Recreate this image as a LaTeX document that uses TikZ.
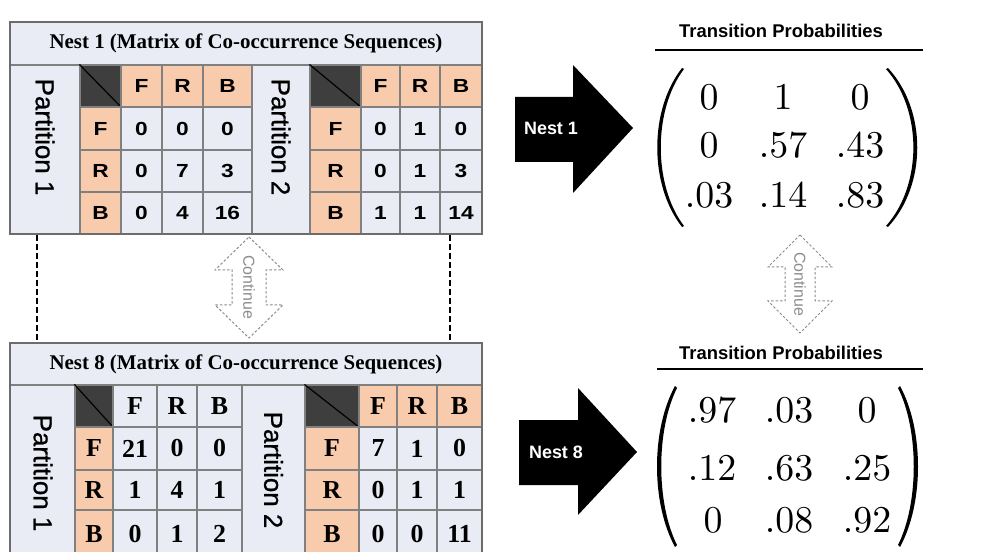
\documentclass[tikz,border=0pt]{standalone}
\usepackage[no-math]{fontspec}
\setmainfont{Liberation Serif}
\setsansfont{Liberation Sans}
\newfontfamily\cellsans[FakeStretch=1.2]{Liberation Sans}
\newfontfamily\labsans{Liberation Sans}
\newfontfamily\partsans[FakeBold=0.8]{Liberation Sans}
\definecolor{peach}{RGB}{247,203,172}
\definecolor{pale}{RGB}{233,236,244}
\definecolor{cornerc}{RGB}{62,62,62}
\definecolor{gridc}{RGB}{128,128,128}
\definecolor{contc}{RGB}{140,140,140}

\tikzset{
  cellst/.style={draw=gridc, line width=1.1bp, inner sep=0pt, anchor=center},
  peachcell/.style={fill=peach},
  palecell/.style={fill=pale},
  cornercell/.style={fill=cornerc},
  fontA/.style={font=\cellsans\bfseries\fontsize{19}{19}\selectfont},
  fontB/.style={font=\bfseries\fontsize{26}{26}\selectfont},
  titlest/.style={fill=pale, font=\bfseries\fontsize{21}{21}\selectfont},
  partst/.style={fill=pale},
  parttext/.style={rotate=-90, font=\partsans\fontsize{26}{26}\selectfont, inner sep=0pt},
  outerst/.style={draw=gray!85!black, line width=1.6bp, inner sep=0pt, fill=none},
  diagline/.style={line width=1.2bp, black},
  dashline/.style={line width=2.5bp, black, dash pattern=on 6bp off 3bp},
  contarrow/.style={draw=contc, line width=1bp, dash pattern=on 2.5bp off 2bp},
  conttext/.style={rotate=-90, font=\labsans\fontsize{16}{16}\selectfont, text=contc, inner sep=0pt},
  bigarrow/.style={fill=black},
  arrowtext/.style={font=\labsans\bfseries\fontsize{18}{18}\selectfont, text=white, inner sep=0pt},
  tptitle/.style={font=\labsans\bfseries\fontsize{18.5}{18.5}\selectfont, inner sep=0pt},
  rule/.style={line width=2.2bp, black},
  entry/.style={inner sep=0pt},
  paren/.style={fill=black}
}
\newcommand{\mv}[1]{\scalebox{3.8}{$#1$}}

\newcommand{\cellbox}[7]{\node[cellst,#6,minimum width={(#4-#2)*1bp},minimum height={(#5-#3)*1bp}] (#1) at ({(#2+#4)/2},{(#3+#5)/2}) {#7};}

\newcommand{\headrow}[9]{%
  \cellbox{#1c}{#2}{#7}{#3}{#8}{cornercell}{}
  \draw[diagline] (#1c.north west) -- (#1c.south east);
  \cellbox{#1hF}{#3}{#7}{#4}{#8}{#9}{F}
  \cellbox{#1hR}{#4}{#7}{#5}{#8}{#9}{R}
  \cellbox{#1hB}{#5}{#7}{#6}{#8}{#9}{B}}

\newcommand{\bodyrows}[8]{%
  \foreach \r/\ya/\yb/\va/\vb/\vc in {#8} {
    \cellbox{#1\r0}{#2}{\ya}{#3}{\yb}{peachcell,#7}{\r}
    \cellbox{#1\r1}{#3}{\ya}{#4}{\yb}{palecell,#7}{\va}
    \cellbox{#1\r2}{#4}{\ya}{#5}{\yb}{palecell,#7}{\vb}
    \cellbox{#1\r3}{#5}{\ya}{#6}{\yb}{palecell,#7}{\vc}
  }}

\begin{document}
\begin{tikzpicture}[x=1bp,y=-1bp]
\useasboundingbox[fill=white] (0,0) rectangle (988,552);

% ---------------- Nest 1 table ----------------
\cellbox{aT}{10}{22}{482}{65}{titlest}{Nest 1 (Matrix of Co-occurrence Sequences)}
\cellbox{aP1}{10}{65}{80}{234}{partst}{}
\node[parttext] (aP1t) at (45,137) {Partition 1};
\headrow{aa}{80}{121}{162}{203}{252}{65}{107}{peachcell,fontA}
\bodyrows{aa}{80}{121}{162}{203}{252}{fontA}{F/107/150/0/0/0, R/150/192/0/7/3, B/192/234/0/4/16}
\cellbox{aP2}{252}{65}{310}{234}{partst}{}
\node[parttext] (aP2t) at (281,137) {Partition 2};
\headrow{ab}{310}{361}{400}{440}{482}{65}{107}{peachcell,fontA}
\bodyrows{ab}{310}{361}{400}{440}{482}{fontA}{F/107/150/0/1/0, R/150/192/0/1/3, B/192/234/1/1/14}
\cellbox{aBox}{10}{22}{482}{234}{outerst}{}

% ---------------- Nest 8 table ----------------
\cellbox{bT}{10}{343}{482}{385}{titlest}{Nest 8 (Matrix of Co-occurrence Sequences)}
\cellbox{bP1}{10}{385}{75}{558}{partst}{}
\node[parttext] (bP1t) at (43,473) {Partition 1};
\headrow{ba}{75}{113}{157}{197}{242}{385}{427}{palecell,fontB}
\bodyrows{ba}{75}{113}{157}{197}{242}{fontB}{F/427/470/21/0/0, R/470/510/1/4/1, B/510/558/0/1/2}
\cellbox{bP2}{242}{385}{305}{558}{partst}{}
\node[parttext] (bP2t) at (273.5,470) {Partition 2};
\headrow{bb}{305}{359}{397}{437}{482}{385}{427}{peachcell,fontB}
\bodyrows{bb}{305}{359}{397}{437}{482}{fontB}{F/427/470/7/1/0, R/470/510/0/1/1, B/510/558/0/0/11}
\cellbox{bBox}{10}{343}{482}{558}{outerst}{}

% ---------------- dashed links ----------------
\coordinate (dLa) at (37,235);
\coordinate (dLb) at (37,343);
\coordinate (dRa) at (450,235);
\coordinate (dRb) at (450,343);
\draw[dashline] (dLa) -- (dLb);
\draw[dashline] (dRa) -- (dRb);

% ---------------- continue arrows ----------------
\draw[contarrow] (249,237) -- (283,270) -- (266,270) -- (266,305) -- (283,305) -- (249,338)
  -- (215,305) -- (232,305) -- (232,270) -- (215,270) -- cycle;
\node[conttext] (contL) at (249,287) {Continue};
\draw[contarrow] (800,235) -- (832,267) -- (815,267) -- (815,301) -- (832,301) -- (800,333)
  -- (768,301) -- (785,301) -- (785,267) -- (768,267) -- cycle;
\node[conttext] (contR) at (800,284) {Continue};

% ---------------- big black arrows ----------------
\fill[bigarrow] (515,97) -- (573,97) -- (573,65) -- (633,128) -- (573,193) -- (573,162) -- (515,162) -- cycle;
\node[arrowtext] (n1) at (551,128) {Nest 1};
\fill[bigarrow] (519,420) -- (578,420) -- (578,388) -- (637,452) -- (578,515) -- (578,485) -- (519,485) -- cycle;
\node[arrowtext] (n8) at (556,452) {Nest 8};

% ---------------- transition probabilities ----------------
\node[tptitle] (tp1) at (781,31) {Transition Probabilities};
\coordinate (r1a) at (655,50);
\coordinate (r1b) at (923,50);
\draw[rule] (r1a) -- (r1b);
\node[tptitle] (tp8) at (781,353) {Transition Probabilities};
\coordinate (r8a) at (657,369);
\coordinate (r8b) at (923,369);
\draw[rule] (r8a) -- (r8b);

% matrix 1
\fill[paren] (682,68) .. controls (649,110) and (649,185) .. (682,227) -- (684,226) .. controls (653,185) and (653,110) .. (684,69) -- cycle;
\fill[paren] (888,68) .. controls (927,110) and (927,185) .. (888,227) -- (886,226) .. controls (922.5,185) and (922.5,110) .. (886,69) -- cycle;
\node[entry] (m11) at (709,97) {\mv{0}};
\node[entry] (m12) at (783,97) {\mv{1}};
\node[entry] (m13) at (860,97) {\mv{0}};
\node[entry] (m21) at (709,145) {\mv{0}};
\node[entry] (m22) at (783,145) {\mv{.57}};
\node[entry] (m23) at (860,145) {\mv{.43}};
\node[entry] (m31) at (709,195) {\mv{.03}};
\node[entry] (m32) at (783,195) {\mv{.14}};
\node[entry] (m33) at (860,195) {\mv{.83}};

% matrix 8
\fill[paren] (675,386) .. controls (651,430) and (651,503) .. (675,547) -- (677,545) .. controls (656,503) and (656,430) .. (677,388) -- cycle;
\fill[paren] (900,386) .. controls (924,430) and (924,503) .. (900,547) -- (898,545) .. controls (919,503) and (919,430) .. (898,388) -- cycle;
\node[entry] (p11) at (712,410) {\mv{.97}};
\node[entry] (p12) at (789,410) {\mv{.03}};
\node[entry] (p13) at (867,410) {\mv{0}};
\node[entry] (p21) at (712,468) {\mv{.12}};
\node[entry] (p22) at (789,468) {\mv{.63}};
\node[entry] (p23) at (867,468) {\mv{.25}};
\node[entry] (p31) at (713,520) {\mv{0}};
\node[entry] (p32) at (789,520) {\mv{.08}};
\node[entry] (p33) at (867,520) {\mv{.92}};
\end{tikzpicture}
\end{document}
